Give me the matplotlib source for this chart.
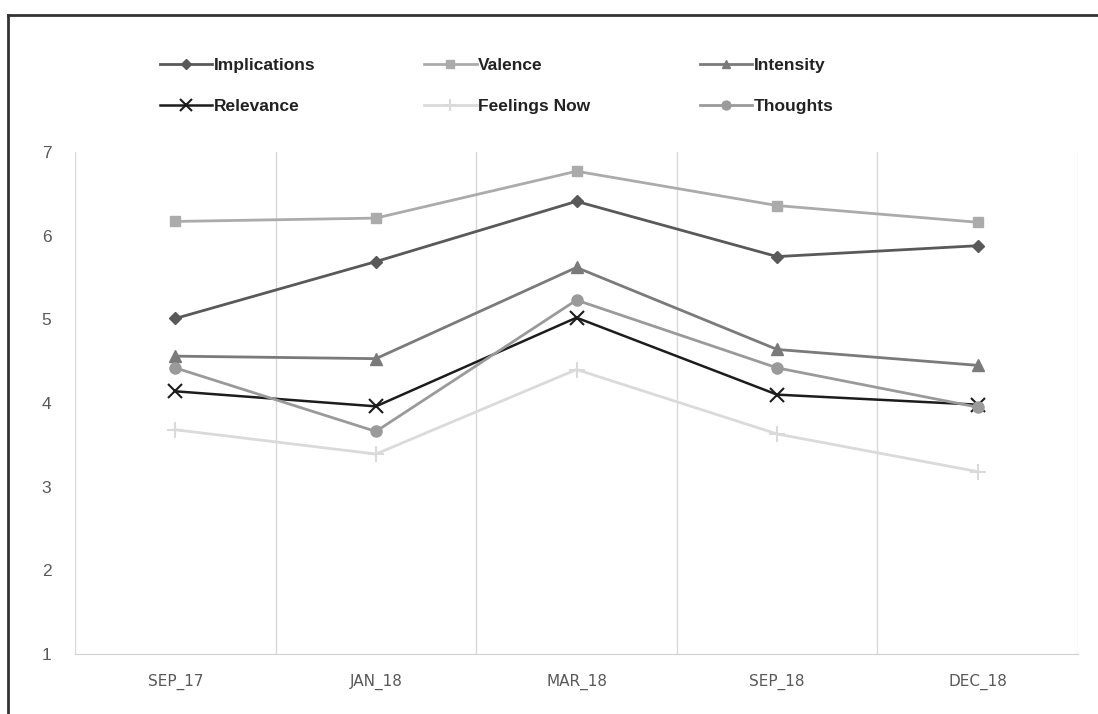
import matplotlib.pyplot as plt
from matplotlib.lines import Line2D

# survey waves
periods = ['SEP_17', 'JAN_18', 'MAR_18', 'SEP_18', 'DEC_18']

implications = [5.01, 5.69, 6.41, 5.75, 5.88]
valence = [6.17, 6.21, 6.77, 6.36, 6.16]
intensity = [4.56, 4.53, 5.62, 4.64, 4.45]
relevance = [4.14, 3.96, 5.02, 4.10, 3.98]
feelings_now = [3.68, 3.39, 4.40, 3.63, 3.18]
thoughts = [4.42, 3.66, 5.23, 4.42, 3.95]

plt.rcParams['font.family'] = ['Liberation Sans', 'DejaVu Sans']

fig = plt.figure(figsize=(10.98, 7.14), dpi=100)
ax = fig.add_axes([75 / 1098, 1 - 654 / 714, 1003 / 1098, 502 / 714])

x = range(len(periods))
series = [
    ('Implications', implications, '#595959', 'D', 6, 2.0),
    ('Valence', valence, '#ababab', 's', 7, 2.0),
    ('Intensity', intensity, '#7a7a7a', '^', 8, 2.0),
    ('Relevance', relevance, '#1c1c1c', 'x', 10, 1.8),
    ('Feelings Now', feelings_now, '#dadada', '+', 11, 2.0),
    ('Thoughts', thoughts, '#9a9a9a', 'o', 8, 2.0),
]

handles = {}
for name, vals, col, mk, ms, lw in series:
    ax.plot(x, vals, color=col, marker=mk, markersize=ms, linewidth=lw,
            markeredgewidth=1.5 if mk in 'x+' else 1, label=name, zorder=3)
    handles[name] = Line2D([0], [0], color=col, marker=mk, markersize=ms * 0.8,
                           linewidth=lw, markeredgewidth=1.5 if mk in 'x+' else 1)

ax.set_xlim(-0.5, len(periods) - 0.5)
ax.set_ylim(1, 7)
ax.set_yticks(range(1, 8))
ax.set_xticks(list(x))
ax.set_xticklabels(periods)

# category separators like Excel
for b in [i - 0.5 for i in range(len(periods) + 1)]:
    ax.axvline(b, color='#d9d9d9', linewidth=1, zorder=0)

for s in ['top', 'right', 'left']:
    ax.spines[s].set_visible(False)
ax.spines['bottom'].set_color('#d0d0d0')
ax.tick_params(axis='both', length=0, colors='#595959', labelsize=12.5)
ax.tick_params(axis='y', pad=17)
ax.tick_params(axis='x', pad=14)
for t in ax.get_xticklabels():
    t.set_fontfamily('DejaVu Sans')
    t.set_fontsize(11)

# legend is filled column by column, so order names to read across rows
order = ['Implications', 'Relevance', 'Valence', 'Feelings Now', 'Intensity', 'Thoughts']
leg = fig.legend([handles[n] for n in order], order, ncol=3, loc='upper left',
                 bbox_to_anchor=(144 / 1098, 1 - 42 / 714), frameon=False,
                 handlelength=3.0, handletextpad=0.1, columnspacing=6.3,
                 labelspacing=1.5,
                 prop={'weight': 'bold', 'size': 12.5})
for t in leg.get_texts():
    t.set_color('#222222')

# outer frame on the left and top
fig.add_artist(Line2D([8 / 1098, 8 / 1098], [0, 1 - 15 / 714], color='#333333',
                      linewidth=2, transform=fig.transFigure))
fig.add_artist(Line2D([8 / 1098, 1], [1 - 15 / 714, 1 - 15 / 714], color='#333333',
                      linewidth=2, transform=fig.transFigure))

fig.savefig('out.png', dpi=100)
